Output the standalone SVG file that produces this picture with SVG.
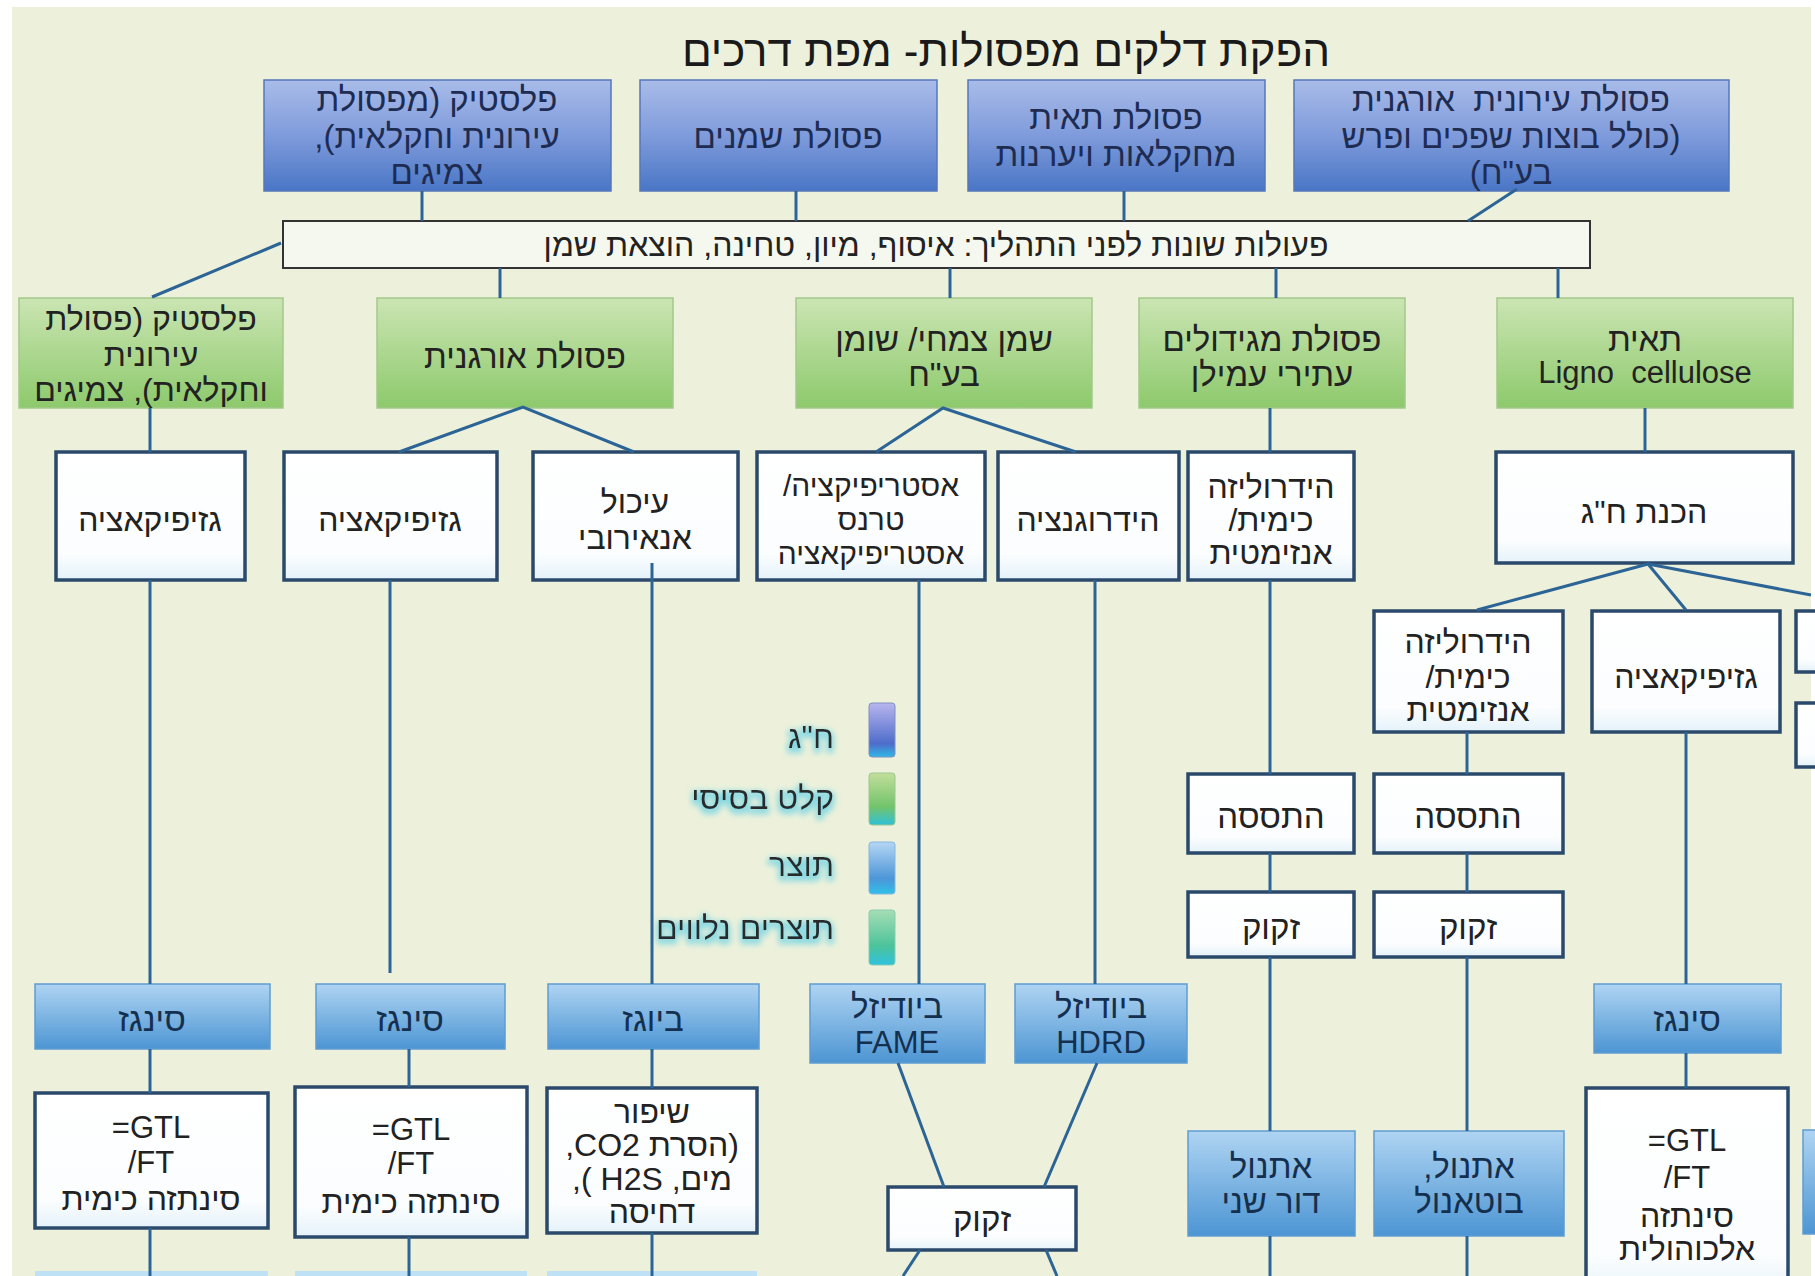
<svg xmlns="http://www.w3.org/2000/svg" width="1815" height="1276" viewBox="0 0 1815 1276">
<defs>
<linearGradient id="gTop" x1="0" y1="0" x2="0" y2="1"><stop offset="0" stop-color="#A9BCE9"/><stop offset="0.5" stop-color="#7F9BDB"/><stop offset="1" stop-color="#4A76C5"/></linearGradient>
<linearGradient id="gGreen" x1="0" y1="0" x2="0" y2="1"><stop offset="0" stop-color="#CBE5B3"/><stop offset="1" stop-color="#8DC96C"/></linearGradient>
<linearGradient id="gProd" x1="0" y1="0" x2="0" y2="1"><stop offset="0" stop-color="#AFD4F2"/><stop offset="1" stop-color="#4C95D3"/></linearGradient>
<linearGradient id="gWhite" x1="0" y1="0" x2="0" y2="1"><stop offset="0" stop-color="#FFFFFF"/><stop offset="0.8" stop-color="#FBFDFE"/><stop offset="1" stop-color="#E4F2FA"/></linearGradient>
<linearGradient id="lg1" x1="0" y1="0" x2="0" y2="1"><stop offset="0" stop-color="#B9B6EE"/><stop offset="0.75" stop-color="#4E6CCB"/><stop offset="1" stop-color="#2FB8E6"/></linearGradient>
<linearGradient id="lg2" x1="0" y1="0" x2="0" y2="1"><stop offset="0" stop-color="#C3DE9B"/><stop offset="0.65" stop-color="#72C46B"/><stop offset="1" stop-color="#2FC0D8"/></linearGradient>
<linearGradient id="lg3" x1="0" y1="0" x2="0" y2="1"><stop offset="0" stop-color="#B5D6F4"/><stop offset="0.7" stop-color="#4D96D8"/><stop offset="1" stop-color="#2EC0E8"/></linearGradient>
<linearGradient id="lg4" x1="0" y1="0" x2="0" y2="1"><stop offset="0" stop-color="#A6DDB5"/><stop offset="0.65" stop-color="#4CC39A"/><stop offset="1" stop-color="#2EC2DE"/></linearGradient>
<filter id="glow" x="-20%" y="-50%" width="140%" height="200%">
<feMorphology operator="dilate" radius="1.5" in="SourceAlpha" result="d"/>
<feGaussianBlur in="d" stdDeviation="3" result="b"/>
<feFlood flood-color="#62CFE4" flood-opacity="0.75"/>
<feComposite in2="b" operator="in" result="g"/>
<feOffset in="g" dy="3" result="go"/>
<feMerge><feMergeNode in="go"/><feMergeNode in="SourceGraphic"/></feMerge>
</filter>
</defs>
<style>
.t{font-family:"Liberation Sans","DejaVu Sans",sans-serif;font-size:32px;fill:#222;text-anchor:middle;direction:rtl}
.tl{direction:ltr}
.pre{white-space:pre}
.lat{font-size:31px}
.title{font-size:44px;fill:#1a1a1a}
.band{font-size:32px}
.big{font-size:33px}
.sm{font-size:30px}
.top{fill:url(#gTop);stroke:#5577BB;stroke-width:1.5}
.grn{fill:url(#gGreen);stroke:#A3C98A;stroke-width:1.5}
.prd{fill:url(#gProd);stroke:#5F9CD2;stroke-width:1.5}
.wht{fill:url(#gWhite);stroke:#2B4A6B;stroke-width:3.5}
.tb{fill:#1E2C52}
.tp{fill:#15304F}
.c{stroke:#2D6496;stroke-width:3;fill:none}
.leg{font-size:32px;fill:#2a2a2a;text-anchor:start;filter:url(#glow)}
</style>
<rect width="1815" height="1276" fill="#FFFFFF"/>
<rect x="12" y="7" width="1799" height="1269" fill="#EDF1DB"/>

<text class="t title" x="1006" y="66">הפקת דלקים מפסולות- מפת דרכים</text>

<g id="top-plastic"><rect class="top" x="264" y="80" width="347" height="111"/>
<text class="t tb big" x="437" y="111">פלסטיק (מפסולת</text><text class="t tb big" x="437" y="148">עירונית וחקלאית),</text><text class="t tb big" x="437" y="184">צמיגים</text></g>
<g id="top-oils"><rect class="top" x="640" y="80" width="297" height="111"/>
<text class="t tb big" x="788" y="148">פסולת שמנים</text></g>
<g id="top-cellulose"><rect class="top" x="968" y="80" width="297" height="111"/>
<text class="t tb big" x="1116" y="129">פסולת תאית</text><text class="t tb big" x="1116" y="166">מחקלאות ויערנות</text></g>
<g id="top-organic"><rect class="top" x="1294" y="80" width="435" height="111"/>
<text class="t tb big pre" x="1511" y="111">פסולת עירונית  אורגנית</text><text class="t tb big" x="1511" y="148">(כולל בוצות שפכים ופרש</text><text class="t tb big" x="1511" y="184">בע"ח)</text></g>

<g id="pre-process"><rect x="283" y="221" width="1307" height="47" fill="#F5F8EE" stroke="#333333" stroke-width="2"/>
<text class="t band" x="936" y="256">פעולות שונות לפני התהליך: איסוף, מיון, טחינה, הוצאת שמן</text></g>

<g id="in-plastic"><rect class="grn" x="19" y="298" width="264" height="110"/>
<text class="t" x="151" y="330">פלסטיק (פסולת</text><text class="t" x="151" y="366">עירונית</text><text class="t" x="151" y="401">וחקלאית), צמיגים</text></g>
<g id="in-organic"><rect class="grn" x="377" y="298" width="296" height="110"/>
<text class="t big" x="525" y="368">פסולת אורגנית</text></g>
<g id="in-oil"><rect class="grn" x="796" y="298" width="296" height="110"/>
<text class="t big" x="944" y="351">שמן צמחי/ שומן</text><text class="t big" x="944" y="386">בע"ח</text></g>
<g id="in-starch"><rect class="grn" x="1139" y="298" width="266" height="110"/>
<text class="t big" x="1272" y="351">פסולת מגידולים</text><text class="t big" x="1272" y="386">עתירי עמילן</text></g>
<g id="in-cellulose"><rect class="grn" x="1497" y="298" width="296" height="110"/>
<text class="t big" x="1645" y="351">תאית</text><text class="t tl pre lat" x="1645" y="383">Ligno  cellulose</text></g>

<g id="gasif-1"><rect class="wht" x="56" y="452" width="189" height="128"/>
<text class="t" x="150" y="531">גזיפיקאציה</text></g>
<g id="gasif-2"><rect class="wht" x="284" y="452" width="213" height="128"/>
<text class="t" x="390" y="531">גזיפיקאציה</text></g>
<g id="anaerobic"><rect class="wht" x="533" y="452" width="205" height="128"/>
<text class="t" x="635" y="513">עיכול</text><text class="t" x="635" y="549">אנאירובי</text></g>
<g id="esterif"><rect class="wht" x="757" y="452" width="228" height="128"/>
<text class="t sm" x="871" y="496">אסטריפיקציה/</text><text class="t sm" x="871" y="530">טרנס</text><text class="t sm" x="871" y="564">אסטריפיקאציה</text></g>
<g id="hydrogen"><rect class="wht" x="998" y="452" width="181" height="128"/>
<text class="t" x="1088" y="531">הידרוגנציה</text></g>
<g id="hydrolysis-1"><rect class="wht" x="1188" y="452" width="166" height="128"/>
<text class="t" x="1271" y="498">הידרוליזה</text><text class="t" x="1271" y="531">כימית/</text><text class="t" x="1271" y="564">אנזימטית</text></g>
<g id="prep-hg"><rect class="wht" x="1496" y="452" width="297" height="111"/>
<text class="t" x="1644" y="523">הכנת ח"ג</text></g>

<g id="hydrolysis-2"><rect class="wht" x="1374" y="611" width="189" height="121"/>
<text class="t" x="1468" y="653">הידרוליזה</text><text class="t" x="1468" y="688">כימית/</text><text class="t" x="1468" y="721">אנזימטית</text></g>
<g id="gasif-3"><rect class="wht" x="1592" y="611" width="188" height="121"/>
<text class="t" x="1686" y="688">גזיפיקאציה</text></g>
<g id="cut-box-1"><rect class="wht" x="1796" y="611" width="40" height="61"/></g>
<g id="cut-box-2"><rect class="wht" x="1796" y="703" width="40" height="64"/></g>

<g id="ferment-1"><rect class="wht" x="1188" y="774" width="166" height="79"/>
<text class="t big" x="1271" y="828">התססה</text></g>
<g id="ferment-2"><rect class="wht" x="1374" y="774" width="189" height="79"/>
<text class="t big" x="1468" y="828">התססה</text></g>
<g id="refine-1"><rect class="wht" x="1188" y="892" width="166" height="65"/>
<text class="t big" x="1271" y="939">זקוק</text></g>
<g id="refine-2"><rect class="wht" x="1374" y="892" width="189" height="65"/>
<text class="t big" x="1468" y="939">זקוק</text></g>

<g id="legend">
<rect x="869" y="703" width="26" height="54" rx="3" fill="url(#lg1)" stroke="#8090C0" stroke-width="1"/>
<text class="t leg" x="834" y="748">ח"ג</text>
<rect x="869" y="773" width="26" height="52" rx="3" fill="url(#lg2)" stroke="#9CC890" stroke-width="1"/>
<text class="t leg" x="834" y="809">קלט בסיסי</text>
<rect x="869" y="842" width="26" height="52" rx="3" fill="url(#lg3)" stroke="#86B6E0" stroke-width="1"/>
<text class="t leg" x="834" y="876">תוצר</text>
<rect x="869" y="910" width="26" height="55" rx="3" fill="url(#lg4)" stroke="#86CDB0" stroke-width="1"/>
<text class="t leg" x="834" y="939">תוצרים נלווים</text>
</g>

<g id="syngas-1"><rect class="prd" x="35" y="984" width="235" height="65"/>
<text class="t tp big" x="152" y="1031">סינגז</text></g>
<g id="syngas-2"><rect class="prd" x="316" y="984" width="189" height="65"/>
<text class="t tp big" x="410" y="1031">סינגז</text></g>
<g id="biogas"><rect class="prd" x="548" y="984" width="211" height="65"/>
<text class="t tp big" x="653" y="1031">ביוגז</text></g>
<g id="fame"><rect class="prd" x="810" y="984" width="175" height="79"/>
<text class="t tp big" x="897" y="1018">ביודיזל</text><text class="t tp tl lat" x="897" y="1053">FAME</text></g>
<g id="hdrd"><rect class="prd" x="1015" y="984" width="172" height="79"/>
<text class="t tp big" x="1101" y="1018">ביודיזל</text><text class="t tp tl lat" x="1101" y="1053">HDRD</text></g>
<g id="syngas-3"><rect class="prd" x="1594" y="984" width="187" height="69"/>
<text class="t tp big" x="1687" y="1031">סינגז</text></g>

<g id="gtl-1"><rect class="wht" x="35" y="1093" width="233" height="135"/>
<text class="t tl lat" x="151" y="1138">=GTL</text><text class="t tl lat" x="151" y="1173">/FT</text><text class="t" x="151" y="1210">סינתזה כימית</text></g>
<g id="gtl-2"><rect class="wht" x="295" y="1087" width="232" height="150"/>
<text class="t tl lat" x="411" y="1140">=GTL</text><text class="t tl lat" x="411" y="1174">/FT</text><text class="t" x="411" y="1213">סינתזה כימית</text></g>
<g id="upgrade"><rect class="wht" x="547" y="1088" width="210" height="145"/>
<text class="t" x="652" y="1123">שיפור</text><text class="t" x="652" y="1156">(הסרת CO2,</text><text class="t" x="652" y="1190">מים, H2S ),</text><text class="t" x="652" y="1223">דחיסה</text></g>
<g id="refine-3"><rect class="wht" x="888" y="1187" width="188" height="63"/>
<text class="t big" x="982" y="1231">זקוק</text></g>
<g id="ethanol-2g"><rect class="prd" x="1188" y="1131" width="167" height="105"/>
<text class="t tp big" x="1271" y="1178">אתנול</text><text class="t tp big" x="1271" y="1213">דור שני</text></g>
<g id="ethanol-butanol"><rect class="prd" x="1374" y="1131" width="190" height="105"/>
<text class="t tp big" x="1469" y="1178">אתנול,</text><text class="t tp big" x="1469" y="1213">בוטאנול</text></g>
<g id="gtl-3"><rect class="wht" x="1586" y="1088" width="202" height="210"/>
<text class="t tl lat" x="1687" y="1151">=GTL</text><text class="t tl lat" x="1687" y="1188">/FT</text><text class="t" x="1687" y="1227">סינתזה</text><text class="t" x="1687" y="1260">אלכוהולית</text></g>
<g id="cut-product"><rect class="prd" x="1803" y="1130" width="30" height="104"/></g>
<g id="next-row">
<rect x="35" y="1271" width="233" height="10" fill="#BFE1F5"/>
<rect x="295" y="1271" width="232" height="10" fill="#BFE1F5"/>
<rect x="547" y="1271" width="210" height="10" fill="#BFE1F5"/>
</g>

<g id="connectors">
<line class="c" x1="422" y1="191" x2="422" y2="221"/>
<line class="c" x1="796" y1="191" x2="796" y2="221"/>
<line class="c" x1="1124" y1="191" x2="1124" y2="221"/>
<line class="c" x1="1517" y1="189" x2="1468" y2="221"/>
<line class="c" x1="281" y1="243" x2="152" y2="297"/>
<line class="c" x1="500" y1="268" x2="500" y2="298"/>
<line class="c" x1="950" y1="268" x2="950" y2="298"/>
<line class="c" x1="1276" y1="268" x2="1276" y2="298"/>
<line class="c" x1="1558" y1="268" x2="1558" y2="298"/>
<line class="c" x1="150" y1="408" x2="150" y2="452"/>
<polyline class="c" points="399,452 523,407 634,452"/>
<polyline class="c" points="876,452 943,408 1076,452"/>
<line class="c" x1="1270" y1="408" x2="1270" y2="452"/>
<line class="c" x1="1645" y1="408" x2="1645" y2="452"/>
<line class="c" x1="150" y1="580" x2="150" y2="984"/>
<line class="c" x1="390" y1="580" x2="390" y2="973"/>
<line class="c" x1="652" y1="563" x2="652" y2="984"/>
<line class="c" x1="919" y1="580" x2="919" y2="984"/>
<line class="c" x1="1095" y1="580" x2="1095" y2="984"/>
<line class="c" x1="1270" y1="580" x2="1270" y2="774"/>
<polyline class="c" points="1477,610 1648,564 1686,610"/>
<line class="c" x1="1648" y1="564" x2="1811" y2="595"/>
<line class="c" x1="1467" y1="732" x2="1467" y2="774"/>
<line class="c" x1="1686" y1="732" x2="1686" y2="984"/>
<line class="c" x1="1270" y1="853" x2="1270" y2="892"/>
<line class="c" x1="1467" y1="853" x2="1467" y2="892"/>
<line class="c" x1="1270" y1="957" x2="1270" y2="1131"/>
<line class="c" x1="1467" y1="957" x2="1467" y2="1131"/>
<line class="c" x1="150" y1="1049" x2="150" y2="1093"/>
<line class="c" x1="409" y1="1049" x2="409" y2="1087"/>
<line class="c" x1="652" y1="1049" x2="652" y2="1088"/>
<line class="c" x1="898" y1="1063" x2="944" y2="1187"/>
<line class="c" x1="1097" y1="1063" x2="1044" y2="1187"/>
<line class="c" x1="1686" y1="1053" x2="1686" y2="1088"/>
<line class="c" x1="150" y1="1228" x2="150" y2="1276"/>
<line class="c" x1="409" y1="1237" x2="409" y2="1276"/>
<line class="c" x1="652" y1="1233" x2="652" y2="1276"/>
<line class="c" x1="920" y1="1250" x2="903" y2="1276"/>
<line class="c" x1="1046" y1="1250" x2="1057" y2="1276"/>
<line class="c" x1="1270" y1="1236" x2="1270" y2="1276"/>
<line class="c" x1="1467" y1="1236" x2="1467" y2="1276"/>
</g>
</svg>
